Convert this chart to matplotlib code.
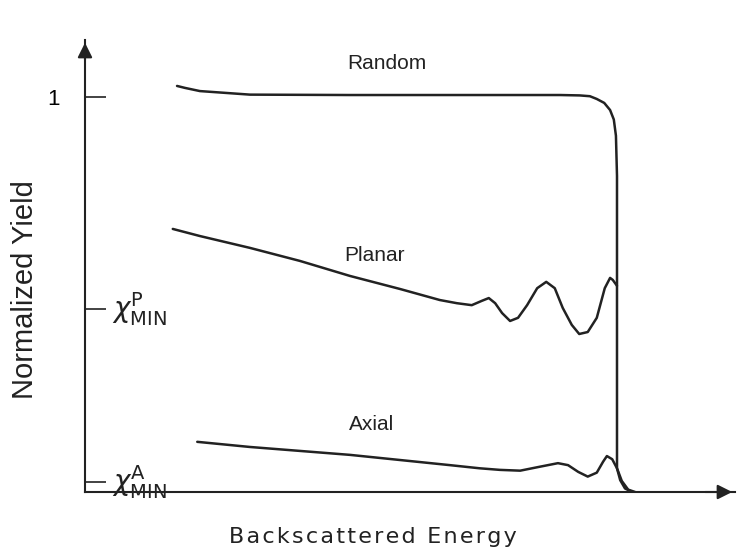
import matplotlib
matplotlib.use("Agg")
import matplotlib.pyplot as plt

plt.rcParams['font.family'] = ['Liberation Sans', 'DejaVu Sans']

# energy (edge at 1.0) and normalized yield
random_e = [0.173, 0.188, 0.216, 0.310, 0.498, 0.686, 0.893, 0.930, 0.949, 0.962, 0.976, 0.987, 0.994,
            0.998, 1.000, 1.000, 1.009, 1.021, 1.034]
random_y = [1.028, 1.023, 1.015, 1.006, 1.005, 1.005, 1.005, 1.004, 1.002, 0.995, 0.985, 0.967, 0.943,
            0.902, 0.800, 0.060, 0.028, 0.006, 0.0]

planar_e = [0.165, 0.216, 0.310, 0.404, 0.498, 0.592, 0.667, 0.699, 0.727, 0.746, 0.759, 0.771, 0.784,
            0.799, 0.814, 0.831, 0.850, 0.867, 0.883, 0.898, 0.915, 0.929, 0.945, 0.962, 0.977, 0.987,
            0.992, 1.000]
planar_y = [0.666, 0.648, 0.618, 0.585, 0.547, 0.514, 0.486, 0.478, 0.473, 0.484, 0.491, 0.478, 0.453,
            0.433, 0.441, 0.473, 0.516, 0.532, 0.516, 0.466, 0.423, 0.400, 0.405, 0.441, 0.516, 0.542,
            0.537, 0.522]

axial_e = [0.211, 0.310, 0.404, 0.498, 0.592, 0.686, 0.742, 0.780, 0.818, 0.855, 0.889, 0.908, 0.927,
           0.945, 0.962, 0.974, 0.981, 0.991, 1.000, 1.006, 1.015, 1.028]
axial_y = [0.127, 0.114, 0.104, 0.094, 0.081, 0.068, 0.060, 0.056, 0.054, 0.064, 0.073, 0.068, 0.051,
           0.039, 0.049, 0.077, 0.091, 0.083, 0.060, 0.030, 0.009, 0.0]

tick_pos = [0.025, 0.463, 1.0]
tick_labels = ['', '', '1']
chi_labels = [r'$\chi^{\mathrm{A}}_{\mathrm{MIN}}$', r'$\chi^{\mathrm{P}}_{\mathrm{MIN}}$']

fig = plt.figure(figsize=(7.37, 5.54), dpi=100)
ax = fig.add_axes([85 / 737, 62 / 554, 650 / 737, 452 / 554])

for e, y in [(random_e, random_y), (planar_e, planar_y), (axial_e, axial_y)]:
    ax.plot(e, y, color='#222222', lw=1.8, solid_capstyle='round', solid_joinstyle='round')

ax.set_xlim(0, 650 / 532)
ax.set_ylim(0, 452 / 395)

for s in ['top', 'right']:
    ax.spines[s].set_visible(False)
for s in ['left', 'bottom']:
    ax.spines[s].set_linewidth(1.5)
    ax.spines[s].set_color('#222222')

ax.set_xticks([])
ax.set_yticks(tick_pos)
ax.set_yticklabels(tick_labels, fontsize=16)
ax.tick_params(axis='y', direction='in', length=15, width=1.2, pad=18, color='#222222')

# arrow heads on the axes
ax.annotate('', xy=(1.0, 0), xytext=(0.95, 0), xycoords='axes fraction',
            arrowprops=dict(arrowstyle='-|>', color='#222222', lw=1.5, mutation_scale=22))
ax.annotate('', xy=(0, 1.0), xytext=(0, 0.95), xycoords='axes fraction',
            arrowprops=dict(arrowstyle='-|>', color='#222222', lw=1.5, mutation_scale=22))

for pos, lab in zip(tick_pos[:2], chi_labels):
    ax.text(0.05, pos, lab, fontsize=20, va='center', ha='left', color='#222222')

ax.text(0.567, 1.085, 'Random', fontsize=15, ha='center', va='center', color='#222222')
ax.text(0.545, 0.599, 'Planar', fontsize=15, ha='center', va='center', color='#222222')
ax.text(0.539, 0.170, 'Axial', fontsize=15, ha='center', va='center', color='#222222')

# the original label is letter-spaced
xlabel = '\u200a'.join('Backscattered Energy')
fig.text(373 / 737, 1 - 537 / 554, xlabel, fontsize=16, ha='center', va='center',
         color='#222222', family='DejaVu Sans')
fig.text(25 / 737, 1 - 290 / 554, 'Normalized Yield', fontsize=21, ha='center', va='center',
         rotation=90, color='#222222')

fig.savefig('out.png', dpi=100)
